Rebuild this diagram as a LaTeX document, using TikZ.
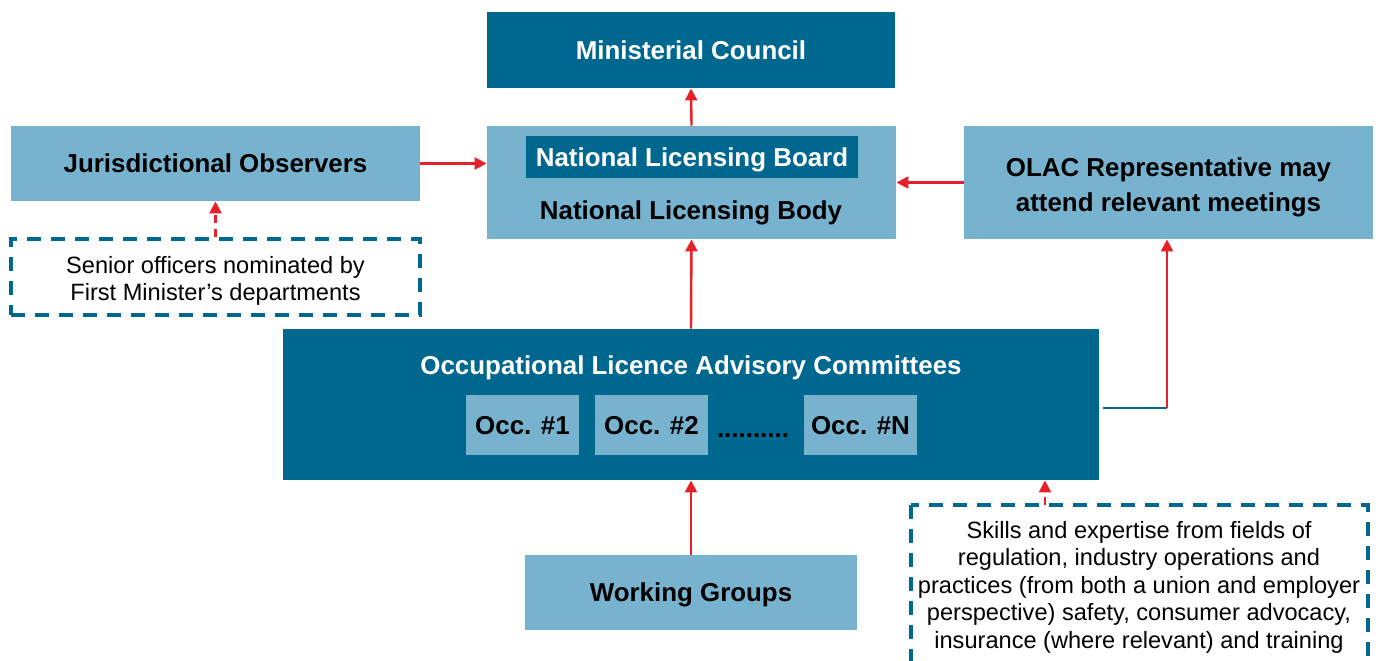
\documentclass[tikz,border=0pt]{standalone}
\usepackage{fontspec}
\setmainfont{Liberation Sans}
\usetikzlibrary{arrows.meta}
\definecolor{dk}{RGB}{0,104,143}
\definecolor{lt}{RGB}{119,179,207}
\definecolor{rd}{RGB}{232,32,42}
\tikzset{
  darkbox/.style={fill=dk, draw=none, inner sep=0pt, text=white, text depth=0pt, font=\fontsize{12.95}{16}\selectfont\bfseries},
  lightbox/.style={fill=lt, draw=none, inner sep=0pt, text=black, text depth=0pt, font=\fontsize{12.95}{17.5}\selectfont\bfseries},
  boldlabel/.style={inner sep=0pt, font=\fontsize{12.95}{17.5}\selectfont\bfseries, align=center},
  dashbox/.style={draw=dk, line width=2pt, dash pattern=on 7pt off 5pt, inner sep=0pt},
  note/.style={font=\fontsize{11.8}{13.75}\selectfont, align=center, inner sep=0pt},
  arr/.style={draw=rd, line width=1.2pt, -{Triangle[length=6pt,width=6pt]}},
  darr/.style={arr, dash pattern=on 4pt off 3pt},
}
\begin{document}
\begin{tikzpicture}[x=0.5pt,y=-0.5pt]
\useasboundingbox (0,0) rectangle (1380,660);
% boxes
\node[darkbox, minimum width=204pt, minimum height=38pt] (mc) at (691,50) {Ministerial Council};
\node[lightbox, minimum width=204.5pt, minimum height=37.5pt] (jo) at (215.5,163.5) {Jurisdictional Observers};
\node[lightbox, minimum width=204.5pt, minimum height=56.5pt] (nlb) at (691.5,182.5) {};
\node[darkbox, minimum width=166pt, minimum height=21pt] (board) at (692,157) {National Licensing Board};
\node[boldlabel, text depth=0pt] (body) at (691,210) {National Licensing Body};
\node[lightbox, minimum width=204.5pt, minimum height=56.5pt] (olac) at (1168.5,182.5) {};
\node[boldlabel] (olactext) at (1168.5,187.5) {OLAC Representative may\\attend relevant meetings};
\node[dashbox, minimum width=204.5pt, minimum height=38pt] (sen) at (215.5,277) {};
\node[note] (sentext) at (215.5,281) {Senior officers nominated by\\First Minister’s departments};
\node[darkbox, minimum width=408pt, minimum height=75.5pt] (com) at (691,404.5) {};
\node[boldlabel, text=white, text depth=0pt] (comtitle) at (691,365) {Occupational Licence Advisory Committees};
\node[lightbox, minimum width=56.5pt, minimum height=30pt] (occ1) at (522.5,425) {Occ. \#1};
\node[lightbox, minimum width=56.5pt, minimum height=30pt] (occ2) at (651.5,425) {Occ. \#2};
\node[lightbox, minimum width=56.5pt, minimum height=30pt] (occN) at (860.5,425) {Occ. \#N};
\node[boldlabel] (dots) at (753,436) {..........};
\node[lightbox, minimum width=166pt, minimum height=37.5pt] (wg) at (691,592.5) {Working Groups};
\coordinate (sk1) at (911,505);
\coordinate (sk2) at (1368,700);
\draw[dashbox] (sk1) rectangle (sk2);
\node[note] (skills) at (1139,587) {Skills and expertise from fields of\\regulation, industry operations and\\practices (from both a union and employer\\perspective) safety, consumer advocacy,\\insurance (where relevant) and training};
% connectors
\draw[arr] (nlb.north) -- (mc.south);
\draw[arr] (jo.east) -- (jo.east -| nlb.west);
\draw[arr] (olac.west) -- (olac.west -| nlb.east);
\draw[arr] (com.north) -- (nlb.south);
\draw[arr] (wg.north) -- (com.south);
\draw[darr] (sen.north -| jo.south) -- (jo.south);
\coordinate (skt) at (1045,505);
\draw[darr] (skt) -- (skt |- com.south);
\coordinate (c1) at (1103,408);
\coordinate (c2) at (1167,408);
\draw[draw=dk, line width=1.2pt] (c1) -- (c2);
\draw[arr] (c2) -- (c2 |- olac.south);
\end{tikzpicture}
\end{document}
